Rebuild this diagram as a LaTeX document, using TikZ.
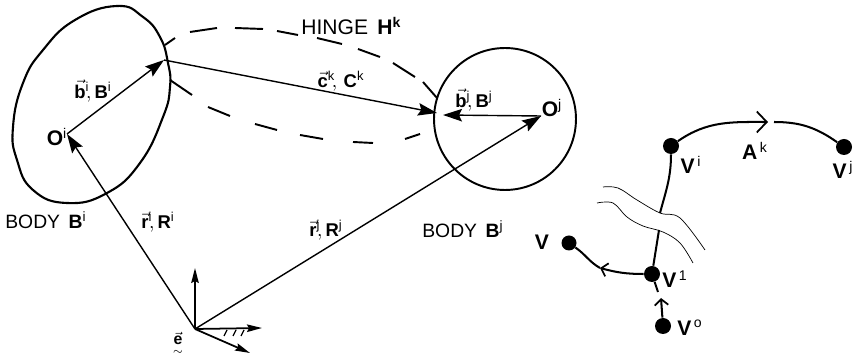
\documentclass[tikz,border=0pt]{standalone}
\usepackage{amsmath}
\usepackage{fontspec}
\setmainfont{Liberation Sans}
\usetikzlibrary{arrows.meta,positioning,calc}
\tikzset{
  bodyline/.style={draw=black, line width=1.2pt},
  bodycirc/.style={draw=black, line width=1.1pt, circle, minimum size=2.84cm, inner sep=0pt},
  vecarr/.style={-{Stealth[length=0.38cm,width=0.25cm,inset=0.06cm]}, draw=black, line width=0.8pt},
  axisarr/.style={-{Stealth[length=0.3cm,width=0.15cm,inset=0.04cm]}, draw=black, line width=1pt},
  hingedash/.style={draw=black, line width=1.1pt},
  lbl/.style={font=\fontsize{10.5}{12}\selectfont, inner sep=0pt},
  lblsans/.style={font=\fontsize{11}{13}\selectfont, inner sep=0pt},
  vtx/.style={circle, fill=black, minimum size=0.32cm, inner sep=0pt},
  vlbl/.style={font=\fontsize{12}{14}\selectfont\bfseries, inner sep=0pt},
  arcline/.style={draw=black, line width=1.15pt},
  arctip/.style={-{Straight Barb[length=0.2cm,width=0.42cm,line width=1pt]}, draw=black, line width=1.15pt},
  arctipsm/.style={-{Straight Barb[length=0.12cm,width=0.27cm,line width=1pt]}, draw=black, line width=1.15pt},
  cutline/.style={draw=black, line width=0.4pt}
}
\begin{document}
\begin{tikzpicture}[x=0.02cm,y=-0.02cm]
  \useasboundingbox (0,0) rectangle (856,357);

  % the two bodies
  \draw[bodyline] plot[smooth cycle,tension=0.8] coordinates {(117,6) (143,17) (160,37) (168,63) (170,87)
    (163,117) (140,163) (107,193) (67,203) (33,190) (17,160) (13,127) (23,83) (43,50) (75,20)};
  \node[bodycirc] (bodyj) at (505,119) {};

  \coordinate (oi) at (67,134);
  \coordinate (oj) at (541,116);
  \coordinate (hi) at (164,60);
  \coordinate (hja) at (437,113);
  \coordinate (hjb) at (443,115);
  \coordinate (orig) at (195,329);

  % hinge outline
  \foreach \xa/\ya/\xb/\yb in {165/45/175/38,190/32/217/28,235/28/263/29,277/31/298/35,317/38/342/44,
      358/49/380/57,393/63/415/77,423/82/437/98,170/80/192/95,208/107/230/116,255/124/277/130,
      300/135/323/139,353/142/373/143,405/139/420/134}
    \draw[hingedash] (\xa,\ya) -- (\xb,\yb);

  % vectors
  \draw[vecarr] (oi) -- (hi);
  \draw[vecarr] (hi) -- (hja);
  \draw[vecarr] (oj) -- (hjb);
  \draw[vecarr] (orig) -- (oi);
  \draw[vecarr] (orig) -- (oj);

  % base frame
  \coordinate (axu) at (195,268);
  \coordinate (axr) at (262,328);
  \coordinate (axd) at (250,353);
  \draw[axisarr] (orig) -- (axu);
  \draw[axisarr] (orig) -- (axr);
  \draw[axisarr] (orig) -- (axd);
  \foreach \x in {224,233,241}
    \draw[line width=0.7pt] (\x,336) -- (\x+3,330);

  \node[lbl,font=\fontsize{12}{14}\selectfont\bfseries] (boi) at (57,137) {O$^{\mathrm{i}}$};
  \node[lbl,font=\fontsize{12}{14}\selectfont\bfseries] (boj) at (552,108) {O$^{\mathrm{j}}$};
  \node[lbl] (labb) at (93,91) {$\vec{\mathbf{b}}^{\mathrm{i}}\!,\mathbf{B}^{\mathrm{i}}$};
  \node[lbl] (labc) at (341,81) {$\vec{\mathbf{c}}^{\mathrm{k}}\!,\,\mathbf{C}^{\mathrm{k}}$};
  \node[lbl] (labbj) at (474,100) {$\vec{\mathbf{b}}^{\mathrm{j}}\!,\mathbf{B}^{\mathrm{j}}$};
  \node[lbl] (labri) at (158,222) {$\vec{\mathbf{r}}^{\mathrm{i}}\!,\mathbf{R}^{\mathrm{i}}$};
  \node[lbl] (labrj) at (326,230) {$\vec{\mathbf{r}}^{\mathrm{j}}\!,\mathbf{R}^{\mathrm{j}}$};
  \node[lblsans,font=\fontsize{12}{14}\selectfont,anchor=west] (labhk) at (301,26) {HINGE \,$\mathbf{H}^{\mathbf{k}}$};
  \node[lblsans,anchor=west] (labbi) at (5,220) {BODY \,$\mathbf{B}^{\mathrm{i}}$};
  \node[lblsans,anchor=west] (labbjj) at (422,229) {BODY \,$\mathbf{B}^{\mathrm{j}}$};
  \node[lbl,font=\small] (labe) at (178,344) {$\underset{\sim}{\vec{\mathbf{e}}}$};

  % graph
  \node[vtx] (vi) at (671,146) {};
  \node[vtx] (vj) at (844,147) {};
  \node[vtx] (vp) at (652,274) {};
  \node[vtx] (vo) at (663,326) {};
  \node[vtx,minimum size=0.3cm] (vv) at (569,243) {};

  \coordinate (aka) at (768,122);
  \coordinate (akb) at (774,122);
  \draw[arctip] (vi) to[out=35,in=180] (aka);
  \draw[arcline] (akb) to[out=0,in=145] (vj);

  \coordinate (brka) at (660,213);
  \coordinate (brkb) at (659,230);
  \draw[arcline] (vi) to[out=-90,in=75] (brka);
  \draw[arcline] (brkb) -- (vp);

  \coordinate (tipv) at (600,268);
  \draw[arctipsm] (vp) to[out=180,in=-15] (tipv);
  \draw[arcline] (tipv) to[out=150,in=-35] (vv);

  \coordinate (tipo) at (661,298);
  \coordinate (tipb) at (658,292);
  \draw[arctipsm] (vo) -- (tipo);
  \draw[arcline] (tipb) -- (vp);

  % cut marks across the edge
  \draw[cutline] plot[smooth,tension=0.6] coordinates {(603,187) (618,188) (637,200) (660,213) (680,218) (705,250)};
  \draw[cutline] plot[smooth,tension=0.6] coordinates {(597,203) (613,203) (627,217) (643,226) (663,232) (680,243) (693,263)};

  \node[vlbl] (lvi) at (691,165) {V$^{\mathrm{\,i}}$};
  \node[vlbl] (lvj) at (843,170) {V$^{\mathrm{\,j}}$};
  \node[vlbl] (lak) at (755,151) {A$^{\mathrm{\,k}}$};
  \node[vlbl] (lvp) at (675,279) {V$^{\mathrm{\,1}}$};
  \node[vlbl] (lvo) at (690,328) {V$^{\mathrm{\,o}}$};
  \node[vlbl] (lvv) at (542,242) {V};
\end{tikzpicture}
\end{document}
